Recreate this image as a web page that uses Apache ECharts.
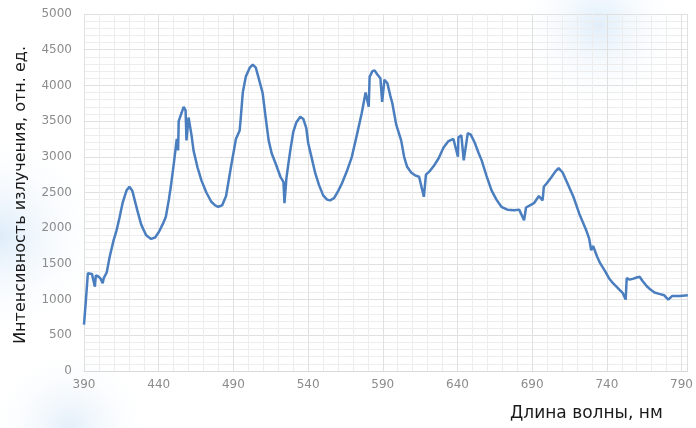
<!DOCTYPE html>
<html>
<head>
<meta charset="utf-8">
<script src="https://cdn.jsdelivr.net/npm/echarts@6/dist/echarts.min.js"></script>
<style>
html,body{margin:0;padding:0;background:#ffffff;}
#chart{width:696px;height:428px;}
</style>
</head>
<body>
<div id="chart"></div>
<script>
// Wavelength (nm)
const wavelengths = [
390,391.3,392.6,395.3,397.3,397.9,399.9,401.2,402.5,403.2,405.2,407.2,409.8,411.8,413.8,415.8,417.1,418.5,420.4,422.4,
425.7,428.3,431.6,434.9,437.6,440.2,442.8,444.8,446.8,448.1,450.1,452.1,453.0,453.4,455.4,456.7,458.0,458.6,460.0,462.0,
463.3,466.0,468.6,471.9,475.2,477.8,479.8,482.5,485.1,488.4,491.7,494.2,495.0,496.3,498.3,501.0,503.0,505.0,507.6,509.6,
511.6,513.6,515.6,518.2,521.5,523.5,524.2,525.5,526.8,528.1,530.1,532.1,534.8,536.8,538.8,540.1,542.8,544.8,547.4,550.1,
552.7,554.7,557.4,560.1,562.7,566.0,569.3,572.6,575.9,578.5,580.6,581.2,583.1,584.5,586.5,588.4,589.6,591.1,593.1,595.1,
596.4,599.0,602.3,604.3,606.3,609.0,611.6,614.3,615.6,617.5,618.9,621.5,624.1,627.4,630.7,634.0,637.3,640.3,640.6,642.6,
644.2,646.9,648.9,651.5,654.2,656.2,659.5,662.8,666.1,669.4,673.4,678.0,681.3,684.6,685.9,688.5,691.2,694.5,697.0,697.8,
699.8,703.1,705.7,707.7,710.4,713.6,717.6,721.6,726.2,728.2,729.5,730.8,733.5,735.5,738.8,741.4,744.1,747.4,750.7,752.6,
753.3,755.3,757.3,760.0,761.9,763.9,766.6,769.2,771.9,775.1,778.4,781.1,783.6,788.9,794.2
];
// Emission intensity (arb. units)
const intensity = [
650,1000,1370,1360,1180,1340,1320,1290,1230,1300,1380,1600,1830,1970,2150,2350,2440,2530,2580,2520,
2250,2050,1900,1850,1870,1950,2060,2160,2400,2580,2900,3250,3090,3500,3620,3700,3650,3230,3550,3300,
3090,2850,2670,2500,2370,2320,2300,2320,2450,2860,3250,3370,3560,3900,4120,4250,4290,4250,4050,3890,
3550,3230,3050,2910,2720,2650,2350,2700,2900,3090,3350,3480,3560,3530,3400,3190,2950,2770,2600,2460,
2400,2390,2420,2520,2630,2800,3000,3300,3610,3900,3700,4120,4200,4210,4150,4100,3770,4080,4030,3850,
3750,3450,3230,3000,2860,2780,2740,2720,2720,2440,2750,2800,2870,2980,3130,3220,3250,3000,3270,3300,
2950,3330,3310,3200,3050,2950,2730,2530,2400,2300,2260,2250,2260,2110,2290,2320,2350,2450,2390,2580,
2630,2720,2800,2840,2780,2630,2440,2200,1970,1850,1690,1750,1600,1510,1400,1300,1230,1160,1090,1000,
1300,1280,1290,1310,1320,1260,1190,1140,1100,1080,1060,1000,1050,1050,1060
];
const xTickLabels = ['390','440','490','540','590','640','690','740','790'];
const yTickLabels = ['0','500','1000','1500','2000','2500','3000','3500','4000','4500','5000'];

const seriesData = wavelengths.map((w, i) => [w, intensity[i]]);

const chart = echarts.init(document.getElementById('chart'), null, {renderer: 'canvas'});
const fontFam = '"DejaVu Sans", "Liberation Sans", sans-serif';
chart.setOption({
  backgroundColor: '#ffffff',
  animation: false,
  graphic: [
    {type:'rect', z:-10, shape:{x:0,y:0,width:696,height:428},
     style:{fill:{type:'radial', x:0.86, y:0.06, r:0.2, colorStops:[{offset:0,color:'rgba(220,236,250,0.9)'},{offset:1,color:'rgba(255,255,255,0)'}]}}},
    {type:'rect', z:-10, shape:{x:0,y:0,width:696,height:428},
     style:{fill:{type:'radial', x:0.0, y:0.55, r:0.25, colorStops:[{offset:0,color:'rgba(214,232,248,0.8)'},{offset:1,color:'rgba(255,255,255,0)'}]}}},
    {type:'rect', z:-10, shape:{x:0,y:0,width:696,height:428},
     style:{fill:{type:'radial', x:0.1, y:1.0, r:0.2, colorStops:[{offset:0,color:'rgba(220,235,248,0.8)'},{offset:1,color:'rgba(255,255,255,0)'}]}}},
    {type:'text', left:13, top:46, z:10,
     rotation: Math.PI/2,
     style:{text:'Интенсивность излучения, отн. ед.', fill:'#1a1a1a', font:'16px ' + fontFam}},
    {type:'text', left:510, top:405, z:10,
     style:{text:'Длина волны, нм', fill:'#1a1a1a', font:'17px ' + fontFam}}
  ],
  grid: {left: 84, right: 0, top: 14, bottom: 57, containLabel: false},
  xAxis: {
    type: 'value', min: 390, max: 794, interval: 50,
    axisLine: {show: true, lineStyle: {color: '#d9d9d9'}},
    axisTick: {show: false},
    axisLabel: {
      color: '#8c8c8c', fontSize: 12, fontFamily: fontFam, margin: 8,
      showMaxLabel: false,
      formatter: function (v) {
        const idx = xTickLabels.indexOf(String(Math.round(v)));
        return idx >= 0 && Math.abs(v - Math.round(v)) < 1e-6 ? xTickLabels[idx] : '';
      }
    },
    splitLine: {show: true, lineStyle: {color: '#e0e0e0', width: 1}},
    minorTick: {show: false, splitNumber: 5},
    minorSplitLine: {show: true, lineStyle: {color: '#ededed', width: 1}}
  },
  yAxis: {
    type: 'value', min: 0, max: 5000, interval: 500,
    axisLine: {show: false},
    axisTick: {show: false},
    axisLabel: {
      color: '#8c8c8c', fontSize: 12, fontFamily: fontFam, margin: 12,
      formatter: function (v) { const i = Math.round(v / 500); return yTickLabels[i] || ''; }
    },
    splitLine: {show: true, lineStyle: {color: '#e0e0e0', width: 1}},
    minorTick: {show: false, splitNumber: 5},
    minorSplitLine: {show: true, lineStyle: {color: '#ededed', width: 1}}
  },
  series: [{
    type: 'line',
    data: seriesData,
    showSymbol: false,
    smooth: false,
    lineStyle: {color: '#4a7ebf', width: 2.5},
    itemStyle: {color: '#4a7ebf'}
  }]
});
</script>
</body>
</html>
